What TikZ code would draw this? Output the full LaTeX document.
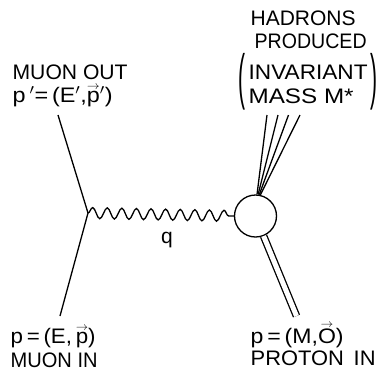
\documentclass[tikz,border=0pt]{standalone}
\usepackage{fontspec}
\usepackage{graphicx}
\setmainfont{Liberation Sans}
\usetikzlibrary{decorations.pathmorphing}
\newcommand{\ovec}[1]{\leavevmode\vbox{\offinterlineskip\halign{\hfil##\hfil\cr\resizebox{0.55em}{!}{$\rightarrow$}\cr\noalign{\kern0.8pt}#1\cr}}}
\newcommand{\fitw}[2]{\resizebox{#1bp}{\height}{#2}}
\begin{document}
\begin{tikzpicture}[x=1bp,y=-1bp,line width=1.3bp,
  lbl/.style={anchor=base west,inner sep=0pt,font=\fontsize{21bp}{25bp}\selectfont},
  txt/.style={inner sep=0pt,font=\fontsize{21bp}{25bp}\selectfont},
  blobstyle/.style={circle,draw,minimum size=42bp,inner sep=0pt}]
\useasboundingbox (0,0) rectangle (378,371);
% vertices and free ends
\coordinate (v) at (88,213);
\coordinate (mo) at (58,115);
\coordinate (mi) at (60,316);
\node[blobstyle] (blob) at (255.5,216) {};
\coordinate (h1) at (267,115);
\coordinate (h2) at (278,115);
\coordinate (h3) at (288.5,115);
\coordinate (h4) at (300,115);
\coordinate (pe) at (296.5,316);
% muon lines
\draw (mi) -- (v) -- (mo);
% photon
\draw[decorate,decoration={snake,segment length=14.6bp,amplitude=5.5bp}] (v) -- (blob.west);
% hadrons
\draw (blob.86) -- (h1);
\draw (blob.83) -- (h2);
\draw (blob.80) -- (h3);
\draw (blob.77) -- (h4);
% proton
\draw[double,double distance=5bp] (blob.-68) -- (pe);
% labels
\node[lbl] (muonout) at (12,79) {\fitw{115}{MUON OUT}};
\node[lbl] (pout) at (12,102) {\fitw{100}{p\,$'$=\,(E$'$,\ovec{p}$'$)}};
\node[lbl] (hadrons) at (250,25) {\fitw{105}{HADRONS}};
\node[lbl] (produced) at (254,48) {\fitw{112}{PRODUCED}};
\node[lbl] (invariant) at (248,79) {\fitw{119}{INVARIANT}};
\node[lbl] (mass) at (248,103) {\fitw{105}{MASS M*}};
\node[txt] (lp) at (242,81.5) {\scalebox{1}[2.9]{(}};
\node[txt] (rp) at (374,81.5) {\scalebox{1}[2.9]{)}};
\node[txt] (q) at (167,240) {q};
\node[lbl] (pin) at (10,343) {\fitw{85}{p\,=\,(E,\,\ovec{p})}};
\node[lbl] (muonin) at (10,367) {\fitw{87}{MUON IN}};
\node[lbl] (pp) at (250,343) {\fitw{93}{p\,=\,(M,\ovec{O})}};
\node[lbl] (protonin) at (250,365) {\fitw{125}{PROTON\hspace{0.45em}IN}};
\end{tikzpicture}
\end{document}
